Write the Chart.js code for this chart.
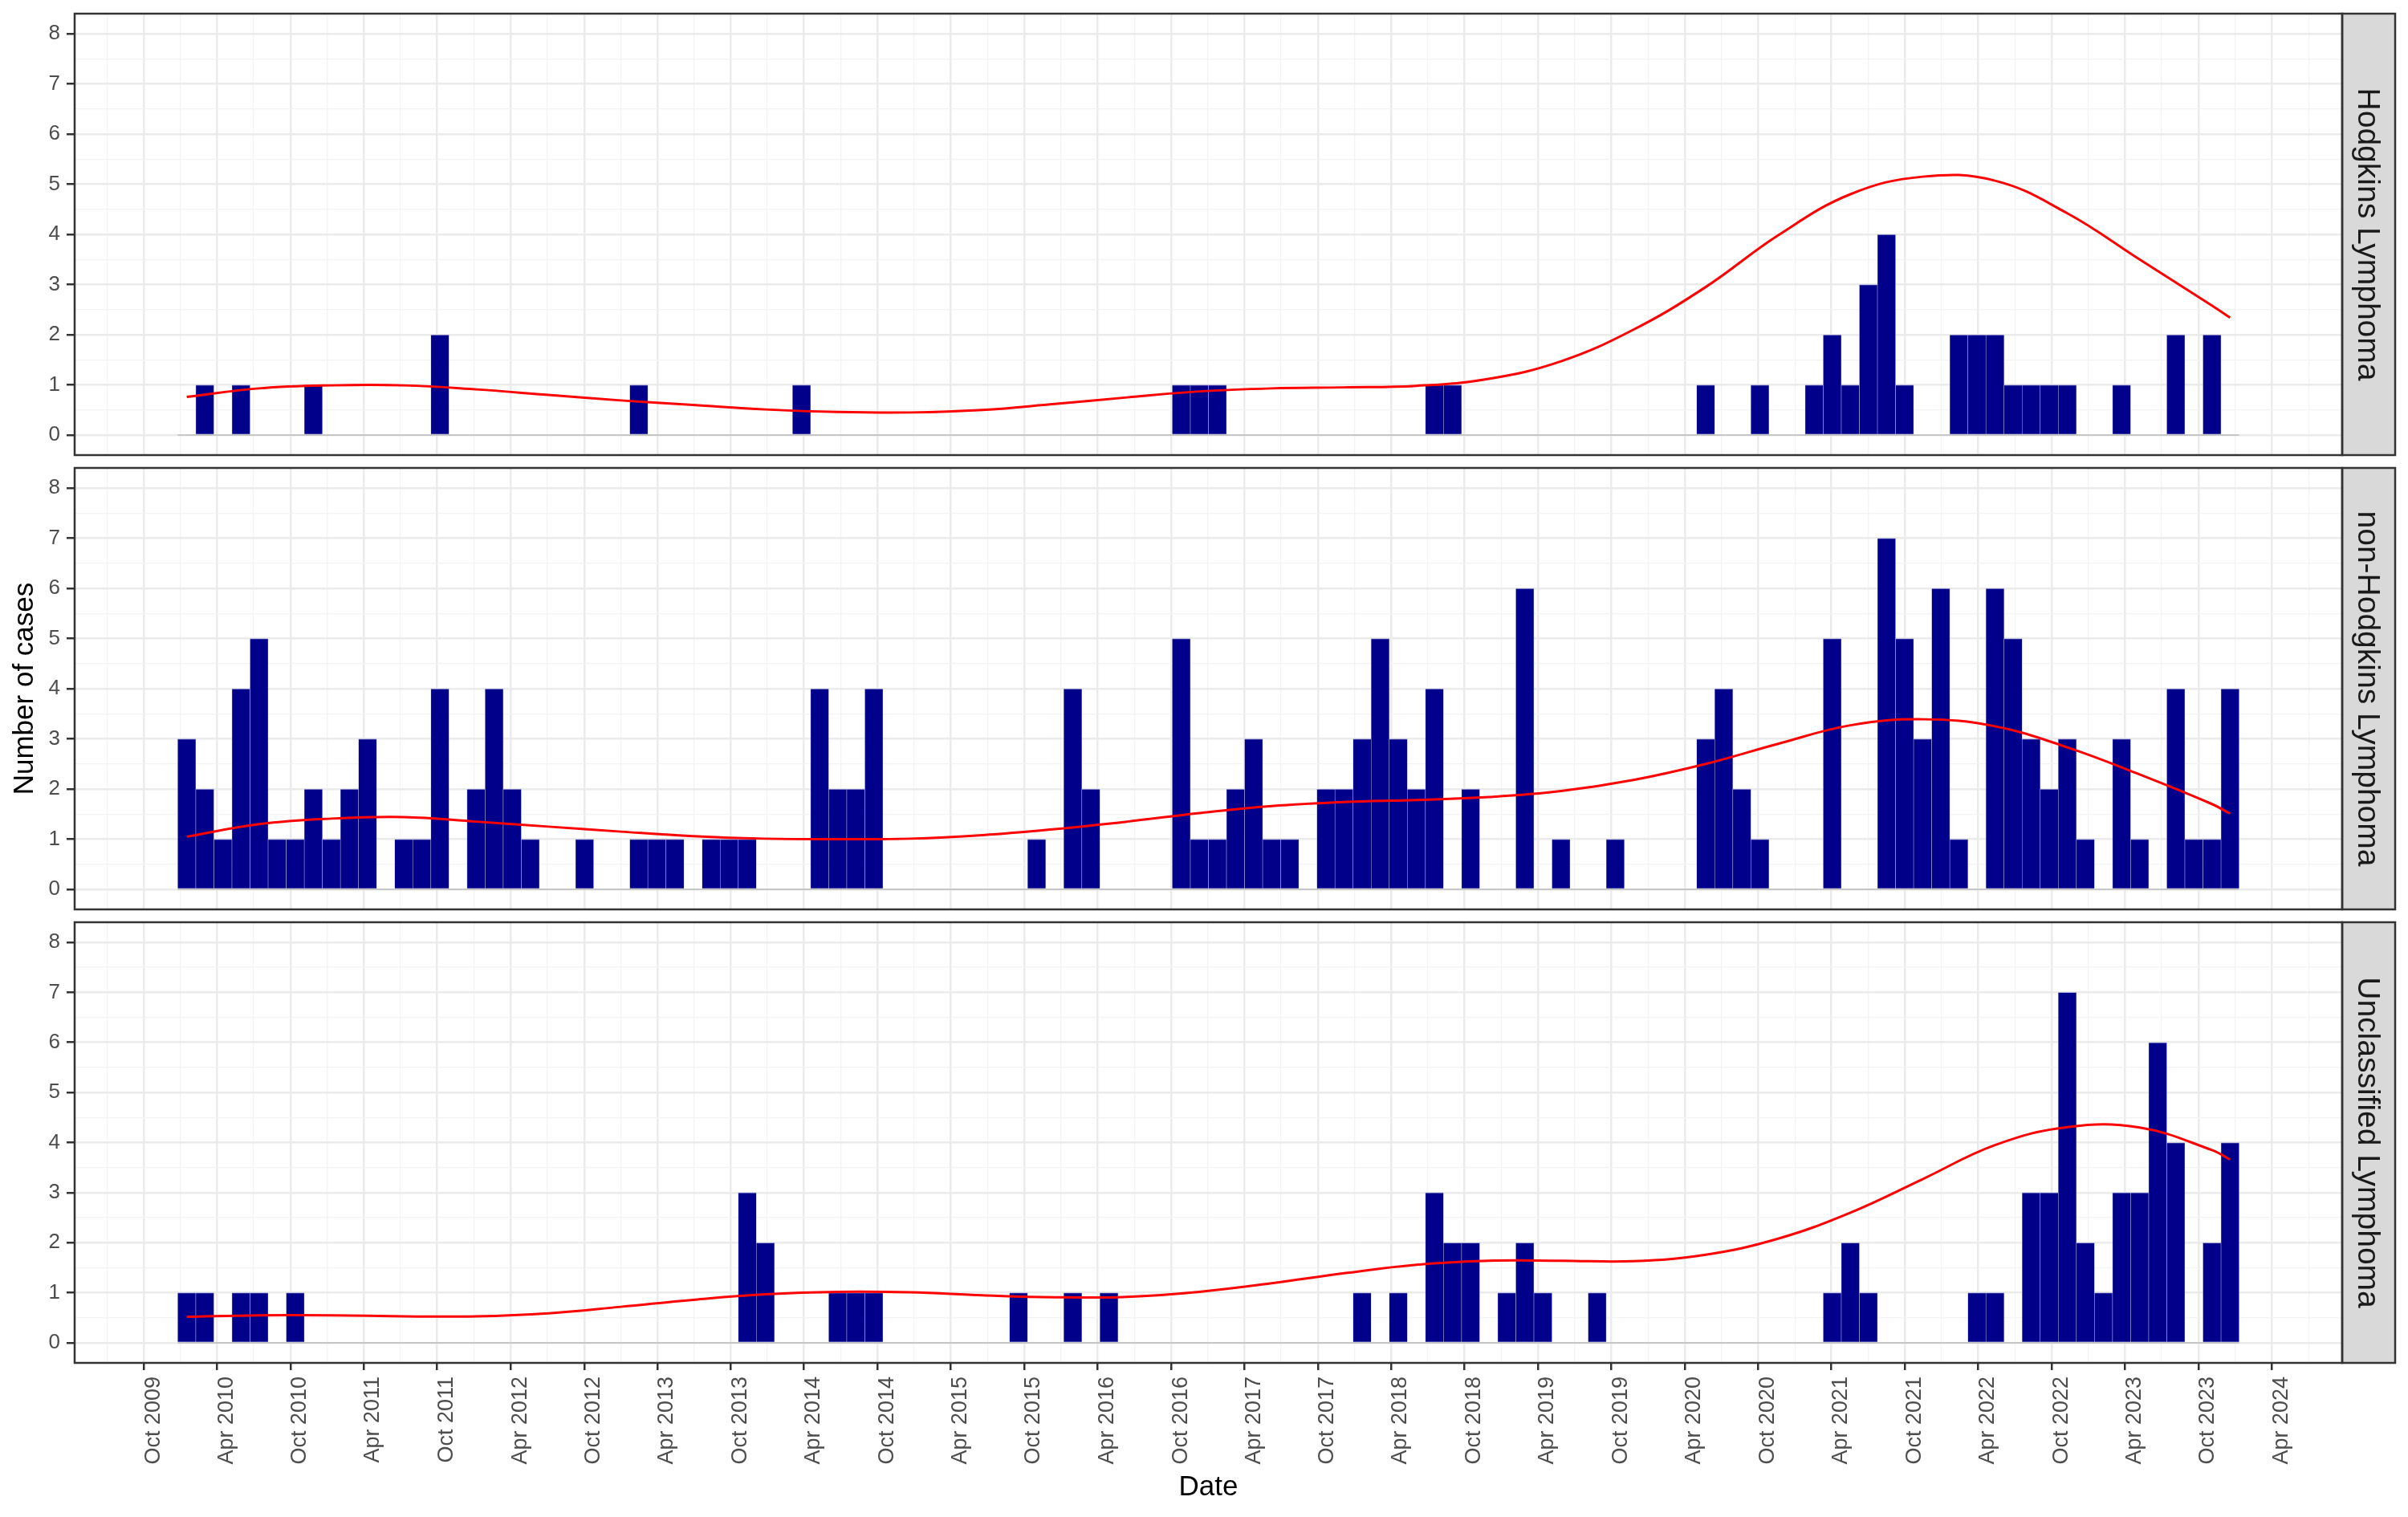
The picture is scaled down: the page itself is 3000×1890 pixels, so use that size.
<!DOCTYPE html>
<html>
<head>
<meta charset="utf-8">
<script src="https://cdn.jsdelivr.net/npm/chart.js@4.4.1/dist/chart.umd.min.js"></script>
<style>
  html, body { margin: 0; padding: 0; background: #fff; }
  #wrap { position: relative; width: 3000px; height: 1890px; }
  #wrap canvas { position: absolute; left: 0; top: 0; }
</style>
</head>
<body>
<div id="wrap">
  <canvas id="c1" width="3000" height="1890"></canvas>
  <canvas id="c2" width="3000" height="1890"></canvas>
  <canvas id="c3" width="3000" height="1890"></canvas>
</div>
<script>
// histogram: 45-day bins, first bin centred on 16 Jan 2010
const firstBinCentre = "2010-01-16";
const binDays = 45;

const panelNames = ["Hodgkins Lymphoma", "non-Hodgkins Lymphoma", "Unclassified Lymphoma"];

// cases per bin (114 bins)
const hodgkins = [
  0,1,0,1,0,0,0,1,0,0,  0,0,0,0,2,0,0,0,0,0,
  0,0,0,0,0,1,0,0,0,0,  0,0,0,0,1,0,0,0,0,0,
  0,0,0,0,0,0,0,0,0,0,  0,0,0,0,0,1,1,1,0,0,
  0,0,0,0,0,0,0,0,0,1,  1,0,0,0,0,0,0,0,0,0,
  0,0,0,0,1,0,0,1,0,0,  1,2,1,3,4,1,0,0,2,2,
  2,1,1,1,1,0,0,1,0,0,  2,0,2,0
];
const nonHodgkins = [
  3,2,1,4,5,1,1,2,1,2,  3,0,1,1,4,0,2,4,2,1,
  0,0,1,0,0,1,1,1,0,1,  1,1,0,0,0,4,2,2,4,0,
  0,0,0,0,0,0,0,1,0,4,  2,0,0,0,0,5,1,1,2,3,
  1,1,0,2,2,3,5,3,2,4,  0,2,0,0,6,0,1,0,0,1,
  0,0,0,0,3,4,2,1,0,0,  0,5,0,0,7,5,3,6,1,0,
  6,5,3,2,3,1,0,3,1,0,  4,1,1,4
];
const unclassified = [
  1,1,0,1,1,0,1,0,0,0,  0,0,0,0,0,0,0,0,0,0,
  0,0,0,0,0,0,0,0,0,0,  0,3,2,0,0,0,1,1,1,0,
  0,0,0,0,0,0,1,0,0,1,  0,1,0,0,0,0,0,0,0,0,
  0,0,0,0,0,1,0,1,0,3,  2,2,0,1,2,1,0,0,1,0,
  0,0,0,0,0,0,0,0,0,0,  0,1,2,1,0,0,0,0,0,1,
  1,0,3,3,7,2,1,3,3,6,  4,0,2,4
];

// smoothed trend, read at these bin numbers
const smoothBins = [0,4,8,12,16,20,24,28,32,36,40,44,48,52,56,60,64,68,72,76,80,84,88,92,96,100,104,108,112,113];
const hodgkinsSmooth = [0.76,0.93,0.99,0.99,0.91,0.80,0.69,0.60,0.51,0.46,0.45,0.50,0.62,0.75,0.87,0.93,0.95,0.98,1.12,1.47,2.10,2.95,3.98,4.80,5.15,5.07,4.42,3.50,2.58,2.34];
const nonHodgkinsSmooth = [1.05,1.30,1.41,1.44,1.35,1.25,1.15,1.06,1.01,1.00,1.01,1.08,1.20,1.35,1.52,1.66,1.74,1.78,1.84,1.96,2.18,2.50,2.90,3.27,3.39,3.25,2.83,2.29,1.70,1.51];
const unclassifiedSmooth = [0.52,0.55,0.55,0.53,0.53,0.59,0.72,0.86,0.97,1.02,1.01,0.95,0.91,0.92,1.02,1.19,1.39,1.56,1.64,1.64,1.63,1.76,2.08,2.60,3.27,3.95,4.31,4.30,3.85,3.66];

const xTickLabels = ["Oct 2009","Apr 2010","Oct 2010","Apr 2011","Oct 2011","Apr 2012","Oct 2012","Apr 2013",
  "Oct 2013","Apr 2014","Oct 2014","Apr 2015","Oct 2015","Apr 2016","Oct 2016","Apr 2017","Oct 2017",
  "Apr 2018","Oct 2018","Apr 2019","Oct 2019","Apr 2020","Oct 2020","Apr 2021","Oct 2021","Apr 2022",
  "Oct 2022","Apr 2023","Oct 2023","Apr 2024"];
const yTickLabels = ["0","1","2","3","4","5","6","7","8"];
const xRange = ["2009-04-12", "2024-09-23"];
const yRange = [-0.4, 8.4];

// ---- helpers ----
const DAY = 86400000;
const isoDay = s => Date.parse(s) / DAY;
const MON = { Jan: 0, Apr: 3, Jul: 6, Oct: 9 };
const labelDay = s => { const p = s.split(" "); return Date.UTC(+p[1], MON[p[0]], 1) / DAY; };
const binCentre = k => isoDay(firstBinCentre) + k * binDays;

const majorDays = xTickLabels.map(labelDay);
const xTicks = [];
majorDays.forEach((d, i) => {
  const prev = i > 0 ? majorDays[i - 1] : d - (majorDays[1] - majorDays[0]);
  xTicks.push({ value: (prev + d) / 2, isMajor: false });
  xTicks.push({ value: d, isMajor: true, text: xTickLabels[i] });
});
const n = majorDays.length;
xTicks.push({ value: majorDays[n - 1] + (majorDays[n - 1] - majorDays[n - 2]) / 2, isMajor: false });

const yTicks = [];
yTickLabels.forEach((t, i) => {
  yTicks.push({ value: +t, isMajor: true, text: t });
  if (i < yTickLabels.length - 1) yTicks.push({ value: +t + 0.5, isMajor: false });
});

Chart.defaults.font.family = '"Liberation Sans", Arial, sans-serif';

const gridColor = c => (c.tick && c.tick.isMajor) ? "#EBEBEB" : "#F3F3F3";
const gridWidth = c => (c.tick && c.tick.isMajor) ? 2.5 : 1.3;
const tickMark = c => (c.tick && c.tick.isMajor) ? "#333333" : "rgba(0,0,0,0)";

// panel border + grey strip on the right
const facetStrip = {
  id: "facetStrip",
  afterDraw(chart, args, opts) {
    const { ctx, chartArea: a } = chart;
    const h = a.bottom - a.top;
    ctx.save();
    ctx.fillStyle = "#D9D9D9";
    ctx.fillRect(a.right, a.top, 66, h);
    ctx.lineWidth = 2.5;
    ctx.strokeStyle = "#333333";
    ctx.strokeRect(a.left, a.top, a.right - a.left, h);
    ctx.strokeRect(a.right, a.top, 66, h);
    ctx.translate(a.right + 33, (a.top + a.bottom) / 2);
    ctx.rotate(Math.PI / 2);
    ctx.fillStyle = "#1A1A1A";
    ctx.font = '39px "Liberation Sans", Arial, sans-serif';
    ctx.textAlign = "center";
    ctx.textBaseline = "middle";
    ctx.fillText(opts.label, 0, 2);
    ctx.restore();
  }
};

function makePanel(id, name, counts, smooth, padTop, padBottom, showX, showYTitle) {
  const bars = counts.map((c, k) => ({ x: binCentre(k), y: c }));
  const trend = smoothBins.map((b, i) => ({ x: binCentre(b), y: smooth[i] }));
  const base = [
    { x: binCentre(0) - binDays / 2, y: 0 },
    { x: binCentre(counts.length - 1) + binDays / 2, y: 0 }
  ];

  return new Chart(document.getElementById(id), {
    type: "bar",
    data: {
      datasets: [
        { type: "line", data: trend, borderColor: "#FF0000", borderWidth: 3,
          pointRadius: 0, tension: 0.4, fill: false, order: 0 },
        { type: "line", data: base, borderColor: "#C6C6C6", borderWidth: 2,
          pointRadius: 0, fill: false, order: 1 },
        { data: bars, backgroundColor: "#00008B", borderColor: "#A9A9D8",
          borderWidth: { top: 1, left: 0.6, right: 0.6, bottom: 0 },
          barPercentage: 1, categoryPercentage: 1, order: 2 }
      ]
    },
    options: {
      responsive: false,
      animation: false,
      devicePixelRatio: 1,
      layout: { padding: { top: padTop, bottom: padBottom, left: 0, right: 82 } },
      plugins: { legend: { display: false }, tooltip: { enabled: false }, facetStrip: { label: name } },
      scales: {
        x: {
          type: "linear",
          min: isoDay(xRange[0]), max: isoDay(xRange[1]),
          offset: false,
          afterBuildTicks: s => { s.ticks = xTicks.map(t => ({ ...t })); },
          afterFit: s => { s.height = showX ? 180 : 0; s.paddingLeft = 0; s.paddingRight = 0; },
          border: { display: false },
          grid: { offset: false, color: gridColor, lineWidth: gridWidth, tickColor: tickMark,
                  tickWidth: 2.5, tickLength: 9, drawTicks: showX },
          ticks: {
            display: showX, autoSkip: false, minRotation: 90, maxRotation: 90,
            padding: 8, labelOffset: 12, color: "#4D4D4D", font: { size: 27 },
            callback: (v, i) => xTicks[i].text || ""
          },
          title: { display: showX, text: "Date", color: "#000000", font: { size: 35 },
                   padding: { top: 4, bottom: 4 } }
        },
        y: {
          min: yRange[0], max: yRange[1],
          afterBuildTicks: s => { s.ticks = yTicks.map(t => ({ ...t })); },
          afterFit: s => { s.width = 93; s.paddingTop = 0; s.paddingBottom = 0; },
          border: { display: false },
          grid: { color: gridColor, lineWidth: gridWidth, tickColor: tickMark,
                  tickWidth: 2.5, tickLength: 10 },
          ticks: { padding: 8, color: "#4D4D4D", font: { size: 26 },
                   callback: (v, i) => yTicks[i].text || "" },
          title: { display: showYTitle, text: "Number of cases", color: "#000000",
                   font: { size: 35 }, padding: { top: 10, bottom: 0 } }
        }
      }
    },
    plugins: [facetStrip]
  });
}

makePanel("c1", panelNames[0], hodgkins, hodgkinsSmooth, 17, 1323, false, false);
makePanel("c2", panelNames[1], nonHodgkins, nonHodgkinsSmooth, 583, 757, false, true);
makePanel("c3", panelNames[2], unclassified, unclassifiedSmooth, 1149, 12, true, false);
</script>
</body>
</html>
